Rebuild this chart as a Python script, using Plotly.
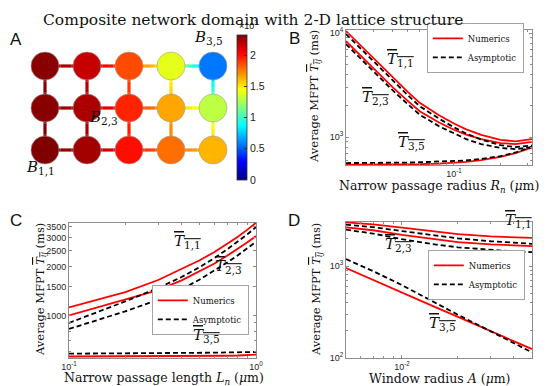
"""Composite network domain with 2-D lattice structure.

Panel A: lattice of bulbs coloured by average MFPT, panels B-D: MFPT vs
narrow passage radius, narrow passage length and window radius.
"""

import plotly.graph_objects as go
from plotly.colors import sample_colorscale

W, H = 548, 386
SERIF = "DejaVu Serif"
SANS = "Liberation Sans"
AX = "#8c8c8c"

# MATLAB style jet colormap
JET = [
    [0.0, "rgb(0,0,128)"],
    [0.125, "rgb(0,0,255)"],
    [0.375, "rgb(0,255,255)"],
    [0.625, "rgb(255,255,0)"],
    [0.875, "rgb(255,0,0)"],
    [1.0, "rgb(128,0,0)"],
]

# Panel A: average MFPT (ms) at bulb B_{i,j}, row i = 1 is the bottom row
ROWS = [1, 2, 3]
COLS = [1, 2, 3, 4, 5]
MFPT_GRID = [
    [2320, 2240, 2000, 1780, 1620],
    [2300, 2220, 1950, 1650, 1300],
    [2300, 2160, 1860, 1390, 560],
]
CBAR_MAX = 2320
CBAR_TICKS = [0, 500, 1000, 1500, 2000]
CBAR_TEXT = ["0", "0.5", "1", "1.5", "2"]

# Panel B: narrow passage radius R_n (um)
RN = [0.02, 0.025, 0.03, 0.04, 0.05, 0.06, 0.08, 0.1, 0.12, 0.15, 0.2, 0.25, 0.32]
B_T11_NUM = [10450, 7520, 5740, 3730, 2730, 2130, 1620, 1350, 1185, 1050, 940, 910, 956]
B_T23_NUM = [8360, 6020, 4590, 3020, 2240, 1770, 1380, 1175, 1055, 955, 875, 855, 900]
B_T35_NUM = [542, 542, 542, 543, 545, 548, 555, 565, 578, 600, 645, 700, 790]
B_T11_ASY = [9770, 7030, 5370, 3490, 2540, 1980, 1500, 1240, 1080, 945, 835, 800, 830]
B_T23_ASY = [7820, 5630, 4290, 2820, 2080, 1640, 1270, 1075, 955, 855, 785, 765, 800]
B_T35_ASY = [562, 562, 563, 565, 568, 572, 578, 585, 595, 615, 655, 710, 805]

# Panel C: narrow passage length L_n (um)
LN = [0.1, 0.2, 0.3, 0.4, 0.5, 0.6, 0.7, 0.8, 0.9, 1.0]
C_T11_NUM = [1120, 1390, 1650, 1920, 2180, 2450, 2740, 3040, 3360, 3700]
C_T23_NUM = [1000, 1250, 1430, 1640, 1860, 2080, 2320, 2560, 2810, 3070]
C_T35_NUM = [560, 560, 561, 562, 563, 564, 566, 568, 571, 575]
C_T11_ASY = [900, 1220, 1475, 1720, 1980, 2250, 2540, 2840, 3150, 3480]
C_T23_ASY = [826, 1060, 1250, 1450, 1660, 1880, 2110, 2340, 2580, 2830]
C_T35_ASY = [583, 584, 585, 587, 589, 591, 593, 594, 596, 597]

# Panel D: window radius A (um)
AW = [0.005, 0.007, 0.01, 0.015, 0.02, 0.03, 0.04, 0.05]
D_T11_NUM = [2980, 2840, 2610, 2350, 2220, 2100, 2050, 2025]
D_T23_NUM = [2640, 2450, 2180, 1940, 1820, 1720, 1670, 1645]
D_T35_NUM = [950, 710, 515, 360, 280, 195, 152, 125]
D_T11_ASY = [2820, 2650, 2400, 2150, 2000, 1860, 1780, 1745]
D_T23_ASY = [2490, 2250, 1960, 1720, 1600, 1490, 1440, 1418]
D_T35_ASY = [1190, 880, 620, 400, 295, 195, 145, 115]


def px(x):
    return x / W


def py(y):
    return 1 - y / H


def tbar(sub):
    return f"<span style='text-decoration:overline'><i>T</i><sub>{sub}</sub></span>"


def jet(v):
    return sample_colorscale(JET, [min(max(v / CBAR_MAX, 0), 1)])[0]


fig = go.Figure()

# ---- Panel A: edges with colour gradient between neighbouring bulbs
edges = []
for r in range(len(ROWS)):
    for c in range(len(COLS)):
        if c + 1 < len(COLS):
            edges.append(((r, c), (r, c + 1)))
        if r + 1 < len(ROWS):
            edges.append(((r, c), (r + 1, c)))

N_SEG = 8
for (r1, c1), (r2, c2) in edges:
    v1, v2 = MFPT_GRID[r1][c1], MFPT_GRID[r2][c2]
    x1, y1, x2, y2 = COLS[c1], ROWS[r1], COLS[c2], ROWS[r2]
    for k in range(N_SEG):
        t0, t1 = k / N_SEG, (k + 1) / N_SEG
        fig.add_trace(go.Scatter(
            x=[x1 + (x2 - x1) * t0, x1 + (x2 - x1) * t1],
            y=[y1 + (y2 - y1) * t0, y1 + (y2 - y1) * t1],
            mode="lines",
            line=dict(color=jet(v1 + (v2 - v1) * (k + 0.5) / N_SEG), width=3.2),
            xaxis="x4", yaxis="y4", showlegend=False, hoverinfo="skip",
        ))

node_x = [c for r in ROWS for c in COLS]
node_y = [r for r in ROWS for c in COLS]
node_v = [v for row in MFPT_GRID for v in row]
fig.add_trace(go.Scatter(
    x=node_x, y=node_y, mode="markers", xaxis="x4", yaxis="y4", showlegend=False,
    marker=dict(
        size=28, color=node_v, colorscale=JET, cmin=0, cmax=CBAR_MAX,
        line=dict(color="#a0a0a0", width=0.6),
        showscale=True,
        colorbar=dict(
            x=px(229), xanchor="left", y=py(99.5), yanchor="middle",
            xpad=0, ypad=0,
            thickness=10, thicknessmode="pixels", len=145, lenmode="pixels",
            tickvals=CBAR_TICKS, ticktext=CBAR_TEXT, ticks="inside", ticklen=3,
            tickcolor="#333", outlinecolor="#333", outlinewidth=0.8,
            tickfont=dict(family=SANS, size=10.5, color="#222"),
        ),
    ),
))

# ---- Panels B, C, D
NUM_STYLE = dict(color="red", width=1.8)
ASY_STYLE = dict(color="black", width=1.8, dash="5px,3px")


def add_panel(x, num_series, asy_series, axis, legend):
    xa, ya = ("x", "y") if axis == 1 else (f"x{axis}", f"y{axis}")
    for k, num in enumerate(num_series):
        fig.add_trace(go.Scatter(
            x=x, y=num, mode="lines", line=NUM_STYLE, name="Numerics",
            xaxis=xa, yaxis=ya, legend=legend, showlegend=(k == 0),
        ))
    for k, asy in enumerate(asy_series):
        fig.add_trace(go.Scatter(
            x=x, y=asy, mode="lines", line=ASY_STYLE, name="Asymptotic",
            xaxis=xa, yaxis=ya, legend=legend, showlegend=(k == 0),
        ))


add_panel(RN, [B_T11_NUM, B_T23_NUM, B_T35_NUM], [B_T11_ASY, B_T23_ASY, B_T35_ASY], 1, "legend")
add_panel(LN, [C_T11_NUM, C_T23_NUM, C_T35_NUM], [C_T11_ASY, C_T23_ASY, C_T35_ASY], 2, "legend2")
add_panel(AW, [D_T11_NUM, D_T23_NUM, D_T35_NUM], [D_T11_ASY, D_T23_ASY, D_T35_ASY], 3, "legend3")

AXIS_STYLE = dict(
    type="log", showline=True, linecolor=AX, linewidth=0.8, mirror="ticks",
    ticks="inside", ticklen=3, tickcolor=AX, showgrid=False, zeroline=False,
    tickfont=dict(family=SANS, size=9, color="#262626"),
)


def minor(vals):
    return dict(tickvals=vals, ticks="inside", ticklen=2, tickcolor=AX, showgrid=False)


def legend_cfg(x, y):
    return dict(
        x=px(x), y=py(y), xanchor="right", yanchor="top", bgcolor="white",
        bordercolor=AX, borderwidth=0.8, itemwidth=30, tracegroupgap=0,
        font=dict(family=SERIF, size=8.5, color="#111"),
    )


fig.update_layout(
    width=W, height=H,
    margin=dict(l=0, r=0, t=0, b=0, autoexpand=False),
    paper_bgcolor="white", plot_bgcolor="white",
    font=dict(family=SERIF, color="#222"),
    xaxis=dict(
        domain=[px(338), px(524)], range=[-1.699, -0.495], anchor="y",
        tickvals=[0.1], ticktext=["10<sup>-1</sup>"],
        minor=minor([0.03, 0.04, 0.05, 0.06, 0.07, 0.08, 0.09, 0.2, 0.3]), **AXIS_STYLE,
    ),
    yaxis=dict(
        domain=[py(157), py(22)], range=[2.731, 4.029], anchor="x",
        tickvals=[1000, 10000], ticktext=["10<sup>3</sup>", "10<sup>4</sup>"],
        minor=minor([600, 700, 800, 900, 2000, 3000, 4000, 5000, 6000, 7000, 8000, 9000]),
        **AXIS_STYLE,
    ),
    xaxis2=dict(
        domain=[px(61), px(248)], range=[-1, 0], anchor="y2",
        tickvals=[0.1, 1], ticktext=["10<sup>-1</sup>", "10<sup>0</sup>"],
        minor=minor([0.2, 0.3, 0.4, 0.5, 0.6, 0.7, 0.8, 0.9]), **AXIS_STYLE,
    ),
    yaxis2=dict(
        domain=[py(350), py(215)], range=[2.739, 3.567], anchor="x2",
        tickvals=[1000, 1500, 2000, 2500, 3000, 3500],
        ticktext=["1000", "1500", "2000", "2500", "3000", "3500"],
        minor=minor([600, 700, 800, 900]), **AXIS_STYLE,
    ),
    xaxis3=dict(
        domain=[px(338), px(524)], range=[-2.301, -1.301], anchor="y3",
        tickvals=[0.01], ticktext=["10<sup>-2</sup>"],
        minor=minor([0.006, 0.007, 0.008, 0.009, 0.02, 0.03, 0.04]), **AXIS_STYLE,
    ),
    yaxis3=dict(
        domain=[py(350), py(214)], range=[2.0, 3.479], anchor="x3",
        tickvals=[100, 1000], ticktext=["10<sup>2</sup>", "10<sup>3</sup>"],
        minor=minor([200, 300, 400, 500, 600, 700, 800, 900, 2000, 3000]), **AXIS_STYLE,
    ),
    xaxis4=dict(domain=[px(16), px(226)], range=[0.5, 5.5], visible=False, anchor="y4"),
    yaxis4=dict(domain=[py(163), py(37)], range=[0.5, 3.5], visible=False, anchor="x4"),
    legend=legend_cfg(516, 15),
    legend2=legend_cfg(241, 277),
    legend3=legend_cfg(517, 242),
)

ANNOTATIONS = [
    # title and panel letters
    ("Composite network domain with 2-D lattice structure", 245, 12, 15.5, SERIF, 0),
    ("A", 8, 32, 17, SANS, 0),
    ("B", 286, 31, 17, SANS, 0),
    ("C", 8, 213, 17, SANS, 0),
    ("D", 286, 213, 17, SANS, 0),
    ("×10<sup>3</sup>", 240, 17, 9, SANS, 0),
    # bulb labels
    ("<i>B</i><sub>1,1</sub>", 32, 159, 15, SERIF, 0),
    ("<i>B</i><sub>2,3</sub>", 95, 109, 15, SERIF, 0),
    ("<i>B</i><sub>3,5</sub>", 200, 29, 15, SERIF, 0),
    # curve labels
    (tbar("1,1"), 392, 51, 15, SERIF, 0),
    (tbar("2,3"), 367, 90, 15, SERIF, 0),
    (tbar("3,5"), 403, 134, 15, SERIF, 0),
    (tbar("1,1"), 179, 233, 15, SERIF, 0),
    (tbar("2,3"), 220, 258, 15, SERIF, 0),
    (tbar("3,5"), 199, 327, 15, SERIF, 0),
    (tbar("1,1"), 510, 213, 15, SERIF, 0),
    (tbar("2,3"), 390, 237, 15, SERIF, 0),
    (tbar("3,5"), 435, 315, 15, SERIF, 0),
    # axis titles
    ("Narrow passage radius <i>R</i><sub><i>n</i></sub> (<i>μ</i>m)", 431, 178, 12.5, SERIF, 0),
    ("Narrow passage length <i>L</i><sub><i>n</i></sub> (<i>μ</i>m)", 156, 370, 12.5, SERIF, 0),
    ("Window radius <i>A</i> (<i>μ</i>m)", 432, 370, 12.5, SERIF, 0),
    ("Average MFPT " + tbar("<i>ij</i>") + " (ms)", 307, 89, 11.5, SERIF, -90),
    ("Average MFPT " + tbar("<i>ij</i>") + " (ms)", 32, 282, 11.5, SERIF, -90),
    ("Average MFPT " + tbar("<i>ij</i>") + " (ms)", 308, 282, 11.5, SERIF, -90),
]

for text, x, y, size, family, angle in ANNOTATIONS:
    fig.add_annotation(
        text=text, x=px(x), y=py(y), xref="paper", yref="paper",
        xanchor="center", yanchor="middle", showarrow=False, textangle=angle,
        font=dict(family=family, size=size, color="#111"),
    )

fig.write_html("out.html")
